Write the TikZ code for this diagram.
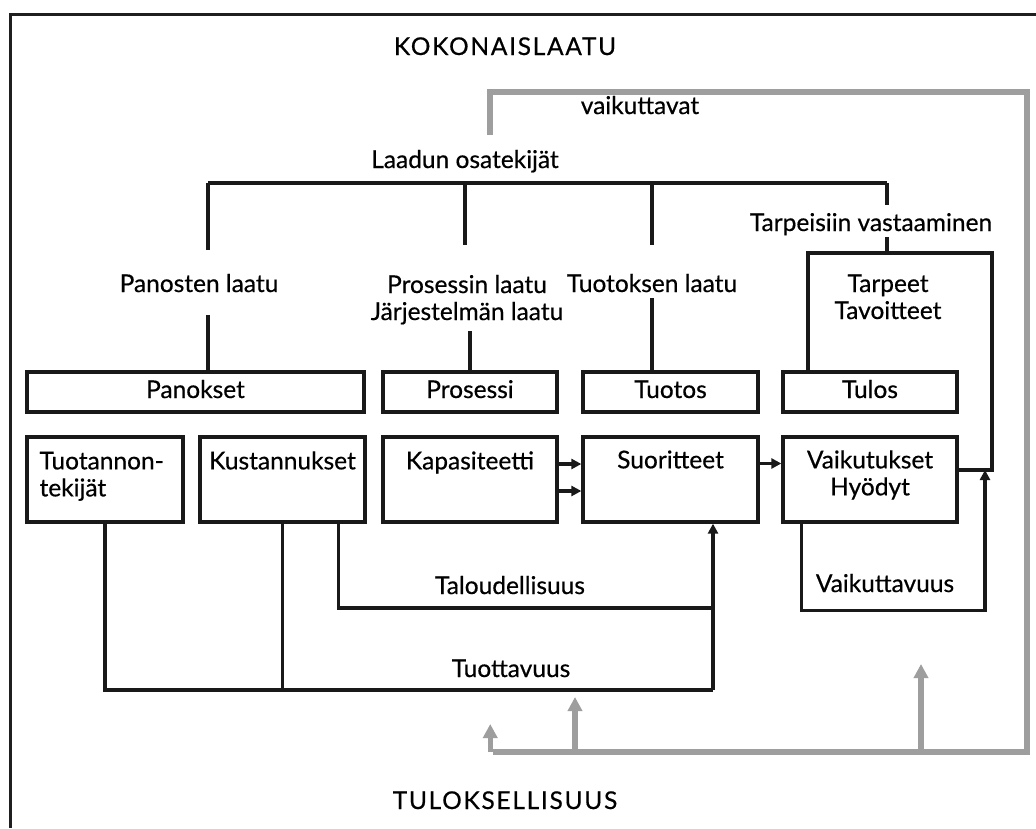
\documentclass[tikz,border=0pt]{standalone}
\usepackage{fontspec}
\setmainfont{Lato}[FakeBold=0.5]
\usetikzlibrary{arrows.meta,calc}
\begin{document}
\begin{tikzpicture}[x=1pt,y=-1pt,
  ink/.style={line width=3.3pt, draw=black!90},
  fnt/.style={font=\fontsize{24.5}{27}\selectfont, text=black},
  box/.style={ink, rectangle, minimum height=40pt, inner sep=0pt, fnt, text height=17pt, text depth=5pt},
  tallbox/.style={ink, rectangle, minimum height=85pt, inner sep=0pt},
  txt/.style={inner sep=0pt, fnt, align=center},
  caps/.style={txt, font=\fontsize{24.5}{27}\selectfont\addfontfeature{LetterSpace=7}},
  gline/.style={line width=5.5pt, draw=black!38},
  garrow/.style={gline, -{Triangle[width=14pt,length=14pt,fill=black!38]}},
  barrow/.style={ink, -{Triangle[width=10pt,length=10pt]}}
]
\useasboundingbox[fill=white] (0,0) rectangle (1036,828);

% outer frame
\draw[line width=3pt, black!88] (10,828) -- (10,14) -- (1036,14);

% titles
\node[caps, anchor=base] (koko) at (505,55) {KOKONAISLAATU};
\node[caps, anchor=base] (tulok) at (505,809) {TULOKSELLISUUS};
\node[txt, anchor=base] (vaik) at (640,114) {vaikuttavat};
\node[txt, anchor=base] (laadun) at (465,168) {Laadun osatekijät};

% quality components (base anchor sits on the last line)
\node[txt, anchor=base] (pl) at (199,292) {Panosten laatu};
\node[txt, anchor=base] (prl) at (467,320) {Prosessin laatu\\Järjestelmän laatu};
\node[txt, anchor=base] (tol) at (652,292) {Tuotoksen laatu};
\node[txt, anchor=base] (tva) at (871,231) {Tarpeisiin vastaaminen};
\node[txt, anchor=base] (tarp) at (888,319) {Tarpeet\\Tavoitteet};

% first row of boxes
\node[box, minimum width=337pt] (panokset) at (195.5,392) {Panokset};
\node[box, minimum width=174pt] (prosessi) at (470,392) {Prosessi};
\node[box, minimum width=175pt] (tuotos) at (670.5,392) {Tuotos};
\node[box, minimum width=174pt] (tulos) at (870,392) {Tulos};

% second row of boxes
\node[tallbox, minimum width=156pt] (tt) at (105,479.5) {};
\node[tallbox, minimum width=165pt] (kus) at (282.5,479.5) {};
\node[tallbox, minimum width=174pt] (kap) at (470,479.5) {};
\node[tallbox, minimum width=175pt] (suo) at (670.5,479.5) {};
\node[tallbox, minimum width=174pt] (vai) at (870,479.5) {};

\node[txt, align=left, anchor=base west] (ttl) at ($(tt.north west)+(14,61)$) {Tuotannon-\\tekijät};
\node[txt, anchor=base] (kusl) at ($(kus.north)+(0,34)$) {Kustannukset};
\node[txt, anchor=base] (kapl) at ($(kap.north)+(0,34)$) {Kapasiteetti};
\node[txt, anchor=base] (suol) at ($(suo.north)+(0,33)$) {Suoritteet};
\node[txt, anchor=base] (vail) at ($(vai.north)+(0,60)$) {Vaikutukset\\Hyödyt};

% measure labels
\node[txt, anchor=base] (talo) at (510,594) {Taloudellisuus};
\node[txt, anchor=base] (tuott) at (511,677) {Tuottavuus};
\node[txt, anchor=base] (vkt) at (885,592) {Vaikuttavuus};

% junction points
\coordinate (j1) at (208,183);
\coordinate (j2) at (465,183);
\coordinate (j3) at (652,183);
\coordinate (j4) at (887,183);
\coordinate (tpl) at (808,253);
\coordinate (tpr) at (992,253);
\coordinate (tpc) at (887,253);
\coordinate (vk) at (985,470);
\coordinate (tv) at (713,690);
\coordinate (tl) at (713,608);

% tree of quality components
\draw[ink] (j1) -- (j4);
\draw[ink] (j1) -- ++(0,67);
\draw[ink] (j2) -- ++(0,62);
\draw[ink] (j3) -- ++(0,62);
\draw[ink] (j4) -- ++(0,22);
\draw[ink] (panokset.north -| j1) -- ++(0,-55);
\draw[ink] (prosessi.north) -- ++(0,-39);
\draw[ink] (tuotos.north -| j3) -- ++(0,-72);
\draw[ink] (tpc) -- ++(0,-16);

% needs / goals frame
\draw[ink] (tulos.north -| tpl) -- (tpl) -- (tpr) -- (tpr |- vk) -- (vai.east |- vk);

% flows between boxes
\draw[barrow] ([yshift=15.5pt]kap.east) -- ([yshift=15.5pt]kap.east -| suo.west);
\draw[barrow] ([yshift=-11.5pt]kap.east) -- ([yshift=-11.5pt]kap.east -| suo.west);
\draw[barrow] ([yshift=16pt]suo.east) -- ([yshift=16pt]suo.east -| vai.west);

% economy and productivity
\draw[ink] (tt.south) |- (tv);
\draw[ink] (kus.south) -- (kus.south |- tv);
\draw[ink] ($(kus.south)+(56,0)$) |- (tl);
\draw[barrow] (tv) -- (suo.south -| tv);

% effectiveness
\draw[barrow] ($(vai.south west)+(20,0)$) -- ++(0,87) -| (vk);

% effects feedback loop
\coordinate (g0) at (490,135);
\coordinate (g1) at (1027,92);
\coordinate (g2) at (1027,752);
\coordinate (ga) at (493,752);
\coordinate (gb) at (575,752);
\coordinate (gc) at (921,752);
\draw[gline, line join=miter] (g0) |- (g1) -- (g2) -- (ga);
\draw[garrow] ([xshift=-2.75pt]ga) -- ++(0,-28);
\draw[garrow] (gb) -- ++(0,-55);
\draw[garrow] (gc) -- ++(0,-88);
\end{tikzpicture}
\end{document}
